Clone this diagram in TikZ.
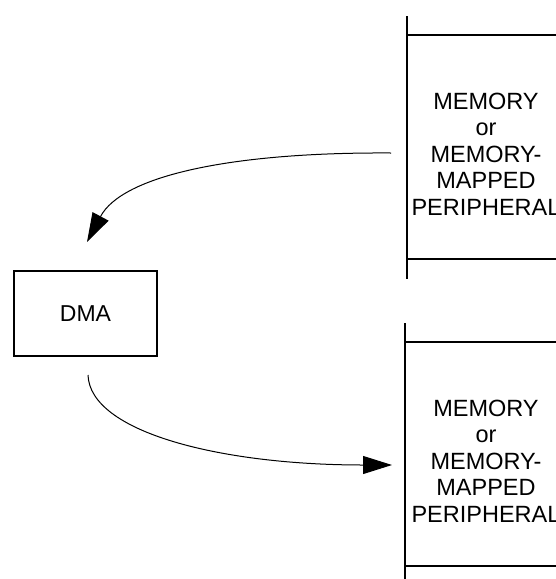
\documentclass[tikz,border=0pt]{standalone}
\usepackage{fontspec}
\setmainfont{Liberation Sans}
\usetikzlibrary{arrows.meta}
\begin{document}
\begin{tikzpicture}[x=1pt,y=-1pt,
  boxline/.style={line width=2pt},
  flow/.style={line width=1pt,-{Triangle[length=29pt,width=18pt]}},
  memtext/.style={align=center,inner sep=0pt,font=\fontsize{23.5}{26.5}\selectfont},
  dmabox/.style={draw,line width=2pt,minimum width=143pt,minimum height=85pt,inner sep=0pt,font=\fontsize{23}{26}\selectfont}]
\useasboundingbox (0,0) rectangle (556,579);
% top memory
\draw[boxline] (407,16) -- (407,279);
\draw[boxline] (406,35) -- (560,35);
\draw[boxline] (406,259) -- (560,259);
\node[memtext] (mem1) at (486,154) {MEMORY\\or\\MEMORY-\\MAPPED\\PERIPHERAL};
% bottom memory
\draw[boxline] (405,323) -- (405,590);
\draw[boxline] (404,342) -- (560,342);
\node[memtext] (mem2) at (486,461) {MEMORY\\or\\MEMORY-\\MAPPED\\PERIPHERAL};
\draw[boxline] (404,566) -- (560,566);
% DMA
\node[dmabox] (dma) at (85.5,313.5) {DMA};
% connectors
\coordinate (s1) at (391,153);
\coordinate (e1) at (87,242);
\coordinate (s2) at (88,375);
\coordinate (e2) at (392,465);
\draw[flow] (s1) .. controls (230,152) and (122,176) .. (e1);
\draw[flow] (s2) .. controls (90,432) and (220,465) .. (e2);
\end{tikzpicture}
\end{document}
